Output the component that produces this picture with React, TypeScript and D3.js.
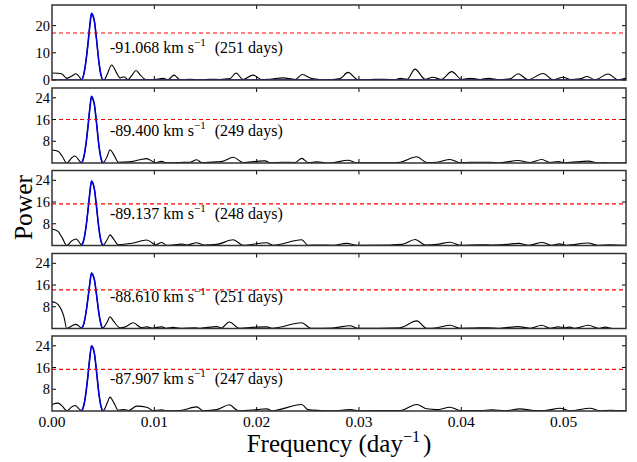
import React from "react";
import * as d3 from "d3";

type Pt = [number, number];

const FREQ_MAX = 0.0561;
const POWER_MAX = 27.6;
const xTicks = [0, 0.01, 0.02, 0.03, 0.04, 0.05];
const xTickLabels = ["0.00", "0.01", "0.02", "0.03", "0.04", "0.05"];
const yTicksFirst = [0, 10, 20];
const yTicksRest = [8, 16, 24];

const velocities = ["-91.068", "-89.400", "-89.137", "-88.610", "-87.907"];
const days = [251, 249, 248, 251, 247];
const thresholds = [17.3, 16.0, 15.3, 14.2, 15.3];

const peak1: Pt[] = [[0.0029, 0], [0.00313, 2.5], [0.00332, 7], [0.00352, 13.5], [0.00371, 20.5], [0.00386, 24.5], [0.00401, 23.6], [0.00415, 21.5], [0.00435, 15], [0.00459, 6.5], [0.00479, 1.8], [0.00499, 0]];
const peak2: Pt[] = [[0.0029, 0], [0.00313, 2.5], [0.00332, 7], [0.00352, 13.5], [0.00371, 20.5], [0.00386, 24.5], [0.00401, 23.5], [0.00415, 21.3], [0.00435, 14.8], [0.00459, 6.3], [0.00479, 1.7], [0.00494, 0]];
const peak3: Pt[] = [[0.0029, 0], [0.00313, 2.4], [0.00332, 6.7], [0.00352, 13], [0.00371, 19.8], [0.00386, 23.7], [0.00401, 22.8], [0.00415, 20.6], [0.00435, 14.3], [0.00459, 6.1], [0.00479, 1.6], [0.00499, 0]];
const peak4: Pt[] = [[0.0029, 0], [0.00313, 2], [0.00332, 5.8], [0.00352, 11.3], [0.00371, 17], [0.00386, 20.4], [0.00401, 19.6], [0.00415, 17.8], [0.00435, 12.5], [0.00459, 5.4], [0.00479, 1.5], [0.00494, 0]];
const peak5: Pt[] = [[0.0029, 0], [0.00313, 2.4], [0.00332, 6.8], [0.00352, 13.2], [0.00371, 20.1], [0.00386, 24.0], [0.00401, 23.2], [0.00415, 21], [0.00435, 14.6], [0.00459, 6.2], [0.00479, 1.7], [0.00494, 0]];

const black1: Pt[] = [[0, 2.6], [0.00059, 2.5], [0.00098, 2.2], [0.00144, 0.6], [0.00196, 1.5], [0.00235, 2.3], [0.00274, 0.8],
  [0.00508, 0], [0.00538, 2.0], [0.00584, 5.5], [0.00626, 3.0], [0.00665, 0.8], [0.00704, 1.2], [0.00743, 0.2], [0.00782, 1.8], [0.00821, 3.5], [0.0086, 2.0], [0.00909, 0.3], [0.00958, 0.1], [0.01007, 0.2], [0.01085, 0.6], [0.01134, 0.1], [0.01193, 1.8], [0.01251, 0.1], [0.01349, 0.3], [0.01447, 0.1], [0.01544, 0.3], [0.01642, 0.2], [0.0174, 0.5], [0.01799, 2.6], [0.01867, 0.2], [0.01965, 1.8], [0.02053, 0.1], [0.02131, 0.3], [0.02258, 0.8], [0.02375, 0.2], [0.02444, 2.0], [0.02542, 0.5], [0.0262, 0.2], [0.02718, 0.1], [0.02815, 0.5], [0.02893, 2.8], [0.02991, 0.1], [0.03109, 0.2], [0.03255, 0.3], [0.03353, 0.1], [0.03402, 0.6], [0.0347, 0.3], [0.03548, 4.0], [0.03646, 0.3], [0.03724, 1.0], [0.03803, 0.2], [0.03907, 3.1], [0.04005, 0.2], [0.04086, 0.6], [0.04184, 0.2], [0.04262, 0.6], [0.04379, 0.1], [0.04477, 0.4], [0.04555, 2.3], [0.04653, 0.1], [0.048, 2.4], [0.04897, 0.1], [0.04995, 1.0], [0.05064, 0.2], [0.05161, 0.4], [0.0523, 1.3], [0.05308, 0.1], [0.05435, 2.2], [0.05533, 0.1], [0.0561, 0.7]];

const black2: Pt[] = [[0, 4.8], [0.00059, 4.3], [0.001, 2.5], [0.00144, 0], [0.00196, 2.0], [0.00225, 2.6], [0.00264, 1.0],
  [0.00508, 0.3], [0.0054, 2.5], [0.00567, 4.9], [0.00605, 3.0], [0.00648, 0.3], [0.0075, 0.4], [0.0086, 1.2], [0.00926, 1.6], [0.00985, 0.5], [0.01007, 0.1], [0.01072, 0.6], [0.01115, 0.1], [0.0125, 0.2], [0.0135, 0.3], [0.01414, 1.2], [0.01466, 0.1], [0.0161, 0.4], [0.01665, 0.6], [0.01772, 2.1], [0.01867, 0.2], [0.02001, 0.6], [0.02082, 0.8], [0.02135, 0.1], [0.0225, 0.3], [0.02375, 0.2], [0.02441, 1.7], [0.02502, 0.2], [0.02587, 0.4], [0.02718, 0], [0.02893, 1.0], [0.02979, 0.1], [0.033, 0.1], [0.03402, 0.3], [0.03565, 2.3], [0.03663, 0.2], [0.03761, 0.3], [0.03891, 1.3], [0.03988, 0.1], [0.04086, 0.3], [0.04281, 0.3], [0.0438, 0.1], [0.04555, 0.9], [0.04672, 0.2], [0.04787, 1.3], [0.04868, 0.2], [0.04946, 0.5], [0.0502, 0.1], [0.05242, 0.7], [0.0534, 0], [0.05386, 0.2], [0.05453, 0], [0.0561, 0.1]];

const black3: Pt[] = [[0, 6.1], [0.00059, 5.2], [0.001, 2.8], [0.00144, 0], [0.00196, 1.8], [0.00235, 2.4], [0.00274, 0.8],
  [0.00508, 0.3], [0.0054, 2.2], [0.00567, 3.9], [0.00605, 2.2], [0.00646, 0.3], [0.00782, 0.8], [0.00926, 2.0], [0.00995, 0.5], [0.01007, 0.2], [0.01072, 1.1], [0.0112, 0.1], [0.01271, 0.5], [0.0132, 0.2], [0.01414, 1.0], [0.0148, 0.2], [0.0161, 0.4], [0.01772, 2.1], [0.01867, 0.1], [0.02099, 1.0], [0.0216, 0.1], [0.02441, 2.1], [0.02502, 0.1], [0.0262, 0.2], [0.0275, 0.1], [0.0288, 0.8], [0.0298, 0.1], [0.033, 0.2], [0.0342, 0.4], [0.0355, 2.2], [0.0365, 0.2], [0.0376, 0.4], [0.0389, 1.2], [0.0399, 0.1], [0.0418, 0.3], [0.043, 0.2], [0.0445, 0.4], [0.0456, 0.8], [0.0466, 0.1], [0.0479, 1.1], [0.0488, 0.1], [0.0496, 0.6], [0.0503, 0.1], [0.0524, 0.9], [0.0533, 0.1], [0.0545, 0.3], [0.0561, 0.1]];

const black4: Pt[] = [[0, 9.8], [0.0003, 9.6], [0.0006, 8.8], [0.00117, 4.3], [0.00144, 0], [0.00196, 1.0], [0.00235, 1.5], [0.00274, 0.5],
  [0.00508, 0.5], [0.0054, 2.4], [0.00567, 4.3], [0.00605, 2.5], [0.00665, 0.3], [0.0071, 0.5], [0.00795, 2.1], [0.00873, 0.3], [0.00926, 0.6], [0.00985, 0.2], [0.01072, 0.6], [0.01115, 0.1], [0.01183, 0.4], [0.01251, 0.1], [0.01398, 0.3], [0.01447, 0.1], [0.0161, 0.7], [0.01655, 0.2], [0.01733, 2.4], [0.01831, 0.1], [0.02001, 0.5], [0.02099, 0.6], [0.0215, 0.1], [0.02441, 2.1], [0.0253, 0.1], [0.0274, 0.2], [0.02913, 1.0], [0.0299, 0.1], [0.03402, 0.3], [0.03565, 2.8], [0.03663, 0.1], [0.03761, 0.3], [0.03891, 1.2], [0.03988, 0.1], [0.04118, 0.2], [0.04262, 0.3], [0.04379, 0.1], [0.04555, 0.7], [0.04672, 0.1], [0.04787, 1.2], [0.04868, 0.1], [0.04946, 0.6], [0.05015, 0.3], [0.05064, 0.5], [0.0511, 0.1], [0.05242, 1.2], [0.0534, 0.1], [0.05406, 0.5], [0.0548, 0], [0.0561, 0]];

const black5: Pt[] = [[0, 2.4], [0.00059, 2.9], [0.001, 1.8], [0.00144, 0.1], [0.00196, 1.6], [0.00225, 2.0], [0.0027, 0.6],
  [0.00508, 0.3], [0.0054, 3.0], [0.00567, 5.1], [0.00605, 3.0], [0.00648, 0.3], [0.00704, 0.5], [0.0075, 0.2], [0.00828, 1.8], [0.00926, 1.4], [0.0099, 0.1], [0.01072, 0.4], [0.01115, 0.1], [0.0125, 0.2], [0.01414, 1.5], [0.0148, 0.1], [0.0161, 0.5], [0.01733, 2.3], [0.0182, 0.1], [0.02001, 0.5], [0.02099, 0.8], [0.0215, 0.1], [0.02441, 2.4], [0.02502, 0.5], [0.0262, 0.2], [0.0274, 0.1], [0.02913, 0.5], [0.0302, 0.1], [0.03402, 0.2], [0.03565, 2.4], [0.03663, 0.8], [0.0376, 0.5], [0.03891, 1.4], [0.03988, 0.2], [0.04184, 0.2], [0.04298, 0.4], [0.0443, 0.1], [0.04575, 0.8], [0.04705, 0.2], [0.04815, 0.2], [0.04966, 1.0], [0.05064, 0.1], [0.05259, 1.0], [0.05357, 0.1], [0.05455, 0.3], [0.0561, 0.1]];

const peaks = [peak1, peak2, peak3, peak4, peak5];
const blacks = [black1, black2, black3, black4, black5];

const W = 637;
const H = 462;
const LEFT = 52;
const RIGHT = 626;
const PANEL_TOPS = [5, 88, 170.5, 253.5, 336];
const PANEL_H = 75;
const SERIF = "'Liberation Serif', 'DejaVu Serif', serif";

export default function App() {
  const x = d3.scaleLinear().domain([0, FREQ_MAX]).range([LEFT, RIGHT]);

  return (
    <svg width={W} height={H} style={{ position: "absolute", left: 0, top: 0, background: "#fff" }}>
      <rect x={0} y={0} width={W} height={H} fill="#fff" />
      <defs>
        {PANEL_TOPS.map((t, i) => (
          <clipPath id={`clip${i}`} key={i}>
            <rect x={LEFT} y={t} width={RIGHT - LEFT} height={PANEL_H} />
          </clipPath>
        ))}
      </defs>
      {PANEL_TOPS.map((top, i) => {
        const y = d3.scaleLinear().domain([0, POWER_MAX]).range([top + PANEL_H, top]);
        const line = d3
          .line<Pt>()
          .x((d) => x(d[0]))
          .y((d) => y(d[1]))
          .curve(d3.curveMonotoneX);
        const allBlack = [...blacks[i], ...peaks[i]].sort((a, b) => a[0] - b[0]);
        const blue: Pt[] =
          i === 0 ? [[0, 0], ...peaks[i], [FREQ_MAX, 0]] : peaks[i];
        const yTicks = i === 0 ? yTicksFirst : yTicksRest;
        const bottom = top + PANEL_H;
        return (
          <g key={i}>
            <g clipPath={`url(#clip${i})`}>
              <path d={line(allBlack) || ""} fill="none" stroke="#000" strokeWidth={1.1} />
              <path d={line(blue) || ""} fill="none" stroke="#0000dd" strokeWidth={1.6} />
              <line
                x1={LEFT}
                x2={RIGHT}
                y1={y(thresholds[i])}
                y2={y(thresholds[i])}
                stroke="#ff0000"
                strokeWidth={1.1}
                strokeDasharray="4,3"
              />
            </g>
            {xTicks.slice(1).map((t) => (
              <g key={t}>
                <line x1={x(t)} x2={x(t)} y1={top} y2={top + 4} stroke="#000" strokeWidth={1} />
                <line x1={x(t)} x2={x(t)} y1={bottom} y2={bottom - 4} stroke="#000" strokeWidth={1} />
              </g>
            ))}
            {yTicks.map((t) => (
              <g key={t}>
                <line x1={LEFT} x2={LEFT + 4} y1={y(t)} y2={y(t)} stroke="#000" strokeWidth={1} />
                <line x1={RIGHT} x2={RIGHT - 4} y1={y(t)} y2={y(t)} stroke="#000" strokeWidth={1} />
                <text
                  x={LEFT - 2}
                  y={y(t)}
                  dy="0.35em"
                  textAnchor="end"
                  fontFamily={SERIF}
                  fontSize={14.5}
                  fill="#000"
                >
                  {t}
                </text>
              </g>
            ))}
            <rect
              x={LEFT}
              y={top}
              width={RIGHT - LEFT}
              height={PANEL_H}
              fill="none"
              stroke="#333"
              strokeWidth={1.5}
            />
            <text x={110} y={top + 48} fontFamily={SERIF} fontSize={16} fill="#000">
              {`${velocities[i]} km s`}
              <tspan dy={-7} fontSize={11}>
                −1
              </tspan>
              <tspan dy={7} dx={9}>
                {`(${days[i]} days)`}
              </tspan>
            </text>
          </g>
        );
      })}
      {xTicks.map((t, j) => (
        <text
          key={t}
          x={x(t)}
          y={PANEL_TOPS[4] + PANEL_H + 16}
          textAnchor="middle"
          fontFamily={SERIF}
          fontSize={15.5}
          fill="#000"
        >
          {xTickLabels[j]}
        </text>
      ))}
      <text
        x={(LEFT + RIGHT) / 2}
        y={452}
        textAnchor="middle"
        fontFamily={SERIF}
        fontSize={25}
        fill="#000"
      >
        Frequency (day
        <tspan dy={-10} fontSize={16}>
          −1
        </tspan>
        <tspan dy={10} dx={3}>
          )
        </tspan>
      </text>
      <text
        transform={`translate(32, 207.5) rotate(-90)`}
        textAnchor="middle"
        fontFamily={SERIF}
        fontSize={25.5}
        fill="#000"
      >
        Power
      </text>
    </svg>
  );
}
